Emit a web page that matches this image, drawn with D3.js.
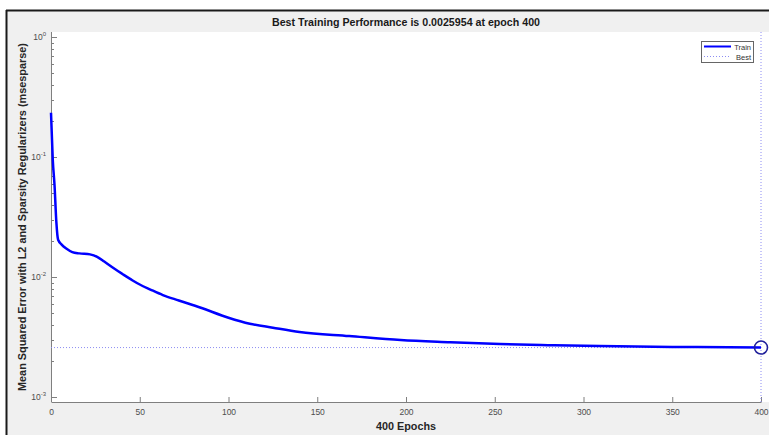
<!DOCTYPE html>
<html>
<head>
<meta charset="utf-8">
<script src="https://cdn.jsdelivr.net/npm/d3@7"></script>
<style>
  body { margin: 0; background: #fff; }
  text { font-family: "Liberation Sans", Arial, sans-serif; }
</style>
</head>
<body>
<div id="chart"></div>
<script>
// training record
var epochs = [0, 1, 2, 3, 4, 6, 9, 12, 16, 22, 26, 30, 36, 40, 46, 50, 56, 63, 72, 84, 100, 112, 125, 140, 168, 197, 225, 253, 280, 309, 350, 400];
var perf = [0.234, 0.095, 0.058, 0.029, 0.0205, 0.0187, 0.0172, 0.0162, 0.0158, 0.0155, 0.0148, 0.0135, 0.0117, 0.0107, 0.0094, 0.0087, 0.0079, 0.0071, 0.0064, 0.0056, 0.0046, 0.0041, 0.0038, 0.0035, 0.00324, 0.0030, 0.00288, 0.00278, 0.00272, 0.00267, 0.00263, 0.0025954];
var bestEpoch = 400,
    bestPerf = 0.0025954;
var xTicks = [0, 50, 100, 150, 200, 250, 300, 350, 400];
var yDecades = [-3, -2, -1, 0];

var width = 769,
    height = 435;

var svg = d3.select("#chart").append("svg")
    .attr("width", width)
    .attr("height", height);

// window frame (screenshot border)
svg.append("rect").attr("x", 6).attr("y", 10).attr("width", width - 6).attr("height", height - 10)
    .attr("fill", "#f0f0f0");
svg.append("line").attr("x1", 6).attr("x2", width).attr("y1", 10.5).attr("y2", 10.5)
    .attr("stroke", "#1a1a1a").attr("stroke-width", 2);
svg.append("line").attr("x1", 6.5).attr("x2", 6.5).attr("y1", 10).attr("y2", height)
    .attr("stroke", "#1a1a1a").attr("stroke-width", 2);

var plotL = 51, plotR = 761, plotT = 32, plotB = 402;

var x = d3.scaleLinear().domain([0, 400]).range([plotL, plotR]);
var y = d3.scaleLog().domain([Math.pow(10, -3.039), Math.pow(10, 0.042)]).range([plotB, plotT]);

// axes background
svg.append("rect").attr("x", plotL).attr("y", plotT).attr("width", width - plotL).attr("height", plotB - plotT)
    .attr("fill", "#fff");

var axisColor = "#7f7f7f",
    labelColor = "#4d4d4d";

// x axis
var xAxis = svg.append("g").attr("transform", "translate(0," + plotB + ")")
    .call(d3.axisBottom(x).tickValues(xTicks).tickSizeInner(-5).tickSizeOuter(0).tickPadding(7));
xAxis.select(".domain").attr("stroke", axisColor);
xAxis.selectAll(".tick line").attr("stroke", axisColor);
xAxis.selectAll(".tick text").attr("fill", labelColor).style("font-size", "8.5px")
    .attr("font-family", null);

// y axis: major decades + minor ticks
var yAxisG = svg.append("g").attr("transform", "translate(" + plotL + ",0)");
yAxisG.append("line").attr("x1", 0.5).attr("x2", 0.5).attr("y1", plotT).attr("y2", plotB)
    .attr("stroke", axisColor);
var minor = [];
yDecades.forEach(function(d){
    if (d < 0) for (var k = 2; k <= 9; k++) minor.push(k * Math.pow(10, d));
});
yAxisG.selectAll("line.minor").data(minor).enter().append("line")
    .attr("class", "minor")
    .attr("x1", 0).attr("x2", 3)
    .attr("y1", function(d){ return Math.round(y(d)) + 0.5; })
    .attr("y2", function(d){ return Math.round(y(d)) + 0.5; })
    .attr("stroke", axisColor);
yAxisG.selectAll("line.major").data(yDecades).enter().append("line")
    .attr("class", "major")
    .attr("x1", 0).attr("x2", 6)
    .attr("y1", function(d){ return Math.round(y(Math.pow(10, d))) + 0.5; })
    .attr("y2", function(d){ return Math.round(y(Math.pow(10, d))) + 0.5; })
    .attr("stroke", axisColor);
var yl = yAxisG.selectAll("text.ylab").data(yDecades).enter().append("text")
    .attr("class", "ylab")
    .attr("x", -5)
    .attr("y", function(d){ return y(Math.pow(10, d)) + 3; })
    .attr("text-anchor", "end")
    .attr("fill", labelColor)
    .style("font-size", "8.5px");
yl.append("tspan").text("10");
yl.append("tspan").attr("dy", -4).style("font-size", "6px").text(function(d){ return d; });

// best markers
svg.append("line").attr("x1", plotL).attr("x2", plotR)
    .attr("y1", y(bestPerf)).attr("y2", y(bestPerf))
    .attr("stroke", "#8c8cf2").attr("stroke-width", 1).attr("stroke-dasharray", "1,2");
svg.append("line").attr("x1", x(bestEpoch)).attr("x2", x(bestEpoch))
    .attr("y1", plotT).attr("y2", plotB)
    .attr("stroke", "#8c8cf2").attr("stroke-width", 1).attr("stroke-dasharray", "1,2");

// train curve
var line = d3.line()
    .x(function(d, i){ return x(epochs[i]); })
    .y(function(d){ return y(d); })
    .curve(d3.curveMonotoneX);
svg.append("path").datum(perf)
    .attr("d", line)
    .attr("fill", "none")
    .attr("stroke", "#0000ff")
    .attr("stroke-width", 2.5);

svg.append("circle").attr("cx", x(bestEpoch)).attr("cy", y(bestPerf)).attr("r", 6.5)
    .attr("fill", "none").attr("stroke", "#1f1f9a").attr("stroke-width", 1.6);

// title & labels
svg.append("text").attr("x", (plotL + plotR) / 2).attr("y", 26)
    .attr("text-anchor", "middle").attr("font-weight", "bold").style("font-size", "10.5px")
    .attr("fill", "#1a1a1a")
    .attr("textLength", 268).attr("lengthAdjust", "spacingAndGlyphs")
    .text("Best Training Performance is " + bestPerf + " at epoch " + bestEpoch);
svg.append("text").attr("x", (plotL + plotR) / 2).attr("y", 430)
    .attr("text-anchor", "middle").attr("font-weight", "bold").style("font-size", "10.5px")
    .attr("fill", "#262626")
    .attr("textLength", 60).attr("lengthAdjust", "spacingAndGlyphs")
    .text("400 Epochs");
svg.append("text")
    .attr("transform", "translate(26," + (plotT + plotB) / 2 + ") rotate(-90)")
    .attr("text-anchor", "middle").attr("font-weight", "bold").style("font-size", "10px")
    .attr("fill", "#262626")
    .attr("textLength", 348).attr("lengthAdjust", "spacingAndGlyphs")
    .text("Mean Squared Error with L2 and Sparsity Regularizers  (msesparse)");

// legend
var lg = svg.append("g").attr("transform", "translate(701,41)");
lg.append("rect").attr("x", 0.5).attr("y", 0.5).attr("width", 52).attr("height", 21)
    .attr("fill", "#fff").attr("stroke", "#666");
lg.append("line").attr("x1", 3).attr("x2", 30).attr("y1", 5.5).attr("y2", 5.5)
    .attr("stroke", "#0000ff").attr("stroke-width", 2);
lg.append("line").attr("x1", 3).attr("x2", 30).attr("y1", 15.5).attr("y2", 15.5)
    .attr("stroke", "#8c8cf2").attr("stroke-dasharray", "1,2");
lg.append("text").attr("x", 50).attr("y", 8.5).attr("text-anchor", "end")
    .style("font-size", "7.5px").attr("fill", "#333").text("Train");
lg.append("text").attr("x", 50).attr("y", 18.5).attr("text-anchor", "end")
    .style("font-size", "7.5px").attr("fill", "#333").text("Best");
</script>
</body>
</html>
